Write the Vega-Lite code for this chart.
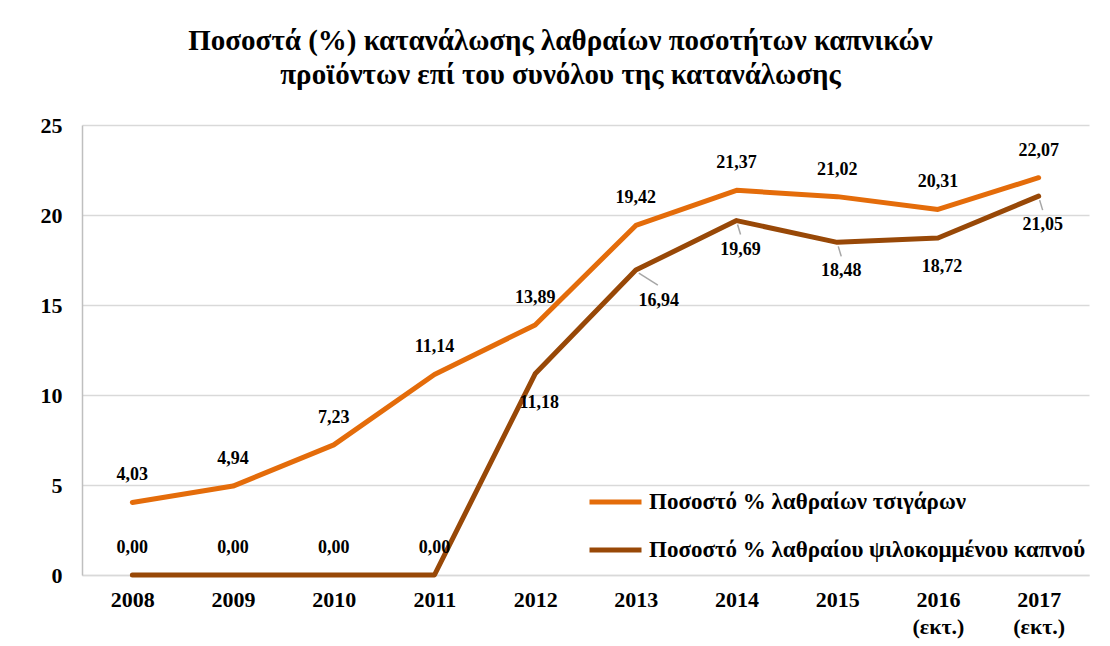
{
  "$schema": "https://vega.github.io/schema/vega-lite/v6.json",
  "width": 1007,
  "height": 450,
  "autosize": {"type": "none"},
  "padding": {"left": 82, "top": 125, "right": 21, "bottom": 71},
  "background": "white",
  "config": {
    "view": {"stroke": null},
    "font": "Liberation Serif",
    "legend": {"labelFontWeight": "bold", "labelFont": "Liberation Serif", "labelFontSize": 23, "labelColor": "black"},
    "locale": {"number": {"decimal": ",", "thousands": ".", "grouping": [3], "currency": ["", "€"]}}
  },
  "title": {
    "text": ["Ποσοστά (%) κατανάλωσης λαθραίων ποσοτήτων καπνικών", "προϊόντων επί του συνόλου της κατανάλωσης"],
    "font": "Liberation Serif",
    "fontSize": 29,
    "fontWeight": "bold",
    "color": "black",
    "anchor": "middle",
    "dx": -25,
    "lineHeight": 34,
    "offset": 24
  },
  "data": {
    "values": [
      {"year": "2008", "series": "Ποσοστό % λαθραίων τσιγάρων", "value": 4.03},
      {"year": "2009", "series": "Ποσοστό % λαθραίων τσιγάρων", "value": 4.94},
      {"year": "2010", "series": "Ποσοστό % λαθραίων τσιγάρων", "value": 7.23},
      {"year": "2011", "series": "Ποσοστό % λαθραίων τσιγάρων", "value": 11.14},
      {"year": "2012", "series": "Ποσοστό % λαθραίων τσιγάρων", "value": 13.89},
      {"year": "2013", "series": "Ποσοστό % λαθραίων τσιγάρων", "value": 19.42},
      {"year": "2014", "series": "Ποσοστό % λαθραίων τσιγάρων", "value": 21.37},
      {"year": "2015", "series": "Ποσοστό % λαθραίων τσιγάρων", "value": 21.02},
      {"year": "2016 (εκτ.)", "series": "Ποσοστό % λαθραίων τσιγάρων", "value": 20.31},
      {"year": "2017 (εκτ.)", "series": "Ποσοστό % λαθραίων τσιγάρων", "value": 22.07},
      {"year": "2008", "series": "Ποσοστό % λαθραίου ψιλοκομμένου καπνού", "value": 0},
      {"year": "2009", "series": "Ποσοστό % λαθραίου ψιλοκομμένου καπνού", "value": 0},
      {"year": "2010", "series": "Ποσοστό % λαθραίου ψιλοκομμένου καπνού", "value": 0},
      {"year": "2011", "series": "Ποσοστό % λαθραίου ψιλοκομμένου καπνού", "value": 0},
      {"year": "2012", "series": "Ποσοστό % λαθραίου ψιλοκομμένου καπνού", "value": 11.18},
      {"year": "2013", "series": "Ποσοστό % λαθραίου ψιλοκομμένου καπνού", "value": 16.94},
      {"year": "2014", "series": "Ποσοστό % λαθραίου ψιλοκομμένου καπνού", "value": 19.69},
      {"year": "2015", "series": "Ποσοστό % λαθραίου ψιλοκομμένου καπνού", "value": 18.48},
      {"year": "2016 (εκτ.)", "series": "Ποσοστό % λαθραίου ψιλοκομμένου καπνού", "value": 18.72},
      {"year": "2017 (εκτ.)", "series": "Ποσοστό % λαθραίου ψιλοκομμένου καπνού", "value": 21.05}
    ]
  },
  "encoding": {
    "x": {
      "field": "year",
      "type": "nominal",
      "sort": null,
      "scale": {"type": "point", "padding": 0.5},
      "axis": {
        "title": null,
        "labelAngle": 0,
        "labelFont": "Liberation Serif",
        "labelFontSize": 22,
        "labelFontWeight": "bold",
        "labelColor": "black",
        "labelPadding": 14,
        "labelLineHeight": 27,
        "labelExpr": "split(datum.label, ' ')",
        "ticks": false,
        "domainColor": "#D9D9D9",
        "domainWidth": 1.5,
        "grid": false
      }
    },
    "y": {
      "field": "value",
      "type": "quantitative",
      "scale": {"domain": [0, 25]},
      "axis": {
        "title": null,
        "values": [0, 5, 10, 15, 20, 25],
        "labelFont": "Liberation Serif",
        "labelFontSize": 22,
        "labelFontWeight": "bold",
        "labelColor": "black",
        "labelPadding": 20,
        "ticks": false,
        "domainColor": "#BFBFBF",
        "domainWidth": 1.5,
        "grid": true,
        "gridColor": "#D9D9D9",
        "gridWidth": 1.5
      }
    }
  },
  "layer": [
    {
      "mark": {"type": "line", "strokeWidth": 5, "strokeCap": "round", "strokeJoin": "round"},
      "encoding": {
        "color": {
          "field": "series",
          "type": "nominal",
          "scale": {
            "domain": ["Ποσοστό % λαθραίων τσιγάρων", "Ποσοστό % λαθραίου ψιλοκομμένου καπνού"],
            "range": ["#E46C0A", "#984807"]
          },
          "legend": {
            "title": null,
            "orient": "none",
            "legendX": 505,
            "legendY": 365,
            "symbolType": "stroke",
            "symbolSize": 2704,
            "symbolStrokeWidth": 5,
            "clipHeight": 24,
            "rowPadding": 24,
            "labelFont": "Liberation Serif",
            "labelFontSize": 23,
            "labelFontWeight": "bold",
            "labelColor": "black",
            "labelOffset": 5,
            "labelLimit": 600
          }
        }
      }
    },
    {
      "transform": [{"filter": "datum.series === 'Ποσοστό % λαθραίων τσιγάρων' || datum.value === 0"}],
      "mark": {"type": "text", "dy": -27, "fontSize": 18, "fontWeight": "bold", "font": "Liberation Serif", "color": "black"},
      "encoding": {"text": {"field": "value", "type": "quantitative", "format": ".2f"}}
    },
    {
      "transform": [{"filter": "datum.series !== 'Ποσοστό % λαθραίων τσιγάρων' && datum.value > 0 && datum.year !== '2013'"}],
      "mark": {"type": "text", "dy": 29, "dx": 4, "fontSize": 18, "fontWeight": "bold", "font": "Liberation Serif", "color": "black"},
      "encoding": {"text": {"field": "value", "type": "quantitative", "format": ".2f"}}
    },
    {
      "transform": [{"filter": "datum.series !== 'Ποσοστό % λαθραίων τσιγάρων' && datum.year === '2013'"}],
      "mark": {"type": "text", "dy": 31, "dx": 23, "fontSize": 18, "fontWeight": "bold", "font": "Liberation Serif", "color": "black"},
      "encoding": {"text": {"field": "value", "type": "quantitative", "format": ".2f"}}
    },
    {
      "transform": [{"filter": "datum.series !== 'Ποσοστό % λαθραίων τσιγάρων' && datum.year === '2013'"}],
      "mark": {"type": "rule", "color": "#A6A6A6", "strokeWidth": 1.5, "xOffset": 3, "yOffset": 3, "x2Offset": 22, "y2Offset": 15},
      "encoding": {"x2": {"field": "year"}, "y2": {"field": "value"}}
    },
    {
      "transform": [{"filter": "datum.series !== 'Ποσοστό % λαθραίων τσιγάρων' && (datum.year === '2014' || datum.year === '2015' || datum.year === '2017 (εκτ.)')"}],
      "mark": {"type": "rule", "color": "#A6A6A6", "strokeWidth": 1.5, "xOffset": 1, "yOffset": 4, "x2Offset": 4, "y2Offset": 14},
      "encoding": {"x2": {"field": "year"}, "y2": {"field": "value"}}
    }
  ]
}
